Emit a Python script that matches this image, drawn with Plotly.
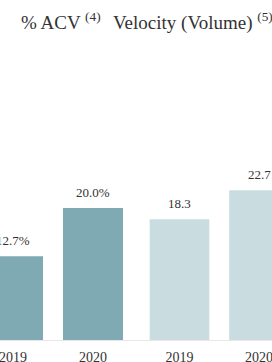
import plotly.graph_objects as go
from plotly.subplots import make_subplots

years = ["2019", "2020"]
acv_values = [12.7, 20.0]
acv_labels = ["12.7%", "20.0%"]
velocity_values = [18.3, 22.7]
velocity_labels = ["18.3", "22.7"]
titles = ["% ACV <sup>(4)</sup>", "Velocity (Volume) <sup>(5)</sup>"]

dark = "#7faab4"
light = "#c9dce0"
serif = "Liberation Serif"

fig = make_subplots(rows=1, cols=2, shared_yaxes=True, horizontal_spacing=0)

fig.add_trace(go.Bar(x=years, y=acv_values, marker_color=dark, width=0.75), row=1, col=1)
fig.add_trace(go.Bar(x=years, y=velocity_values, marker_color=light, width=0.75), row=1, col=2)

for xr, yr, vals, labels in [("x", "y", acv_values, acv_labels),
                             ("x2", "y2", velocity_values, velocity_labels)]:
    for i, (v, lab) in enumerate(zip(vals, labels)):
        fig.add_annotation(x=i, y=v, text=lab, xref=xr, yref=yr, showarrow=False,
                           yanchor="bottom", yshift=6,
                           font=dict(family=serif, size=13, color="#333"))

axis_common = dict(type="category", automargin=False, showgrid=False, zeroline=False,
                   showline=True, linecolor="#e8e8e8", linewidth=1, ticks="outside",
                   ticklen=4, tickcolor="rgba(0,0,0,0)",
                   tickfont=dict(family=serif, size=14, color="#333"))
fig.update_xaxes(**axis_common)
fig.update_xaxes(range=[-0.1625, 1.5375], row=1, col=1)
fig.update_xaxes(range=[-0.547, 1.163], row=1, col=2)
fig.update_yaxes(range=[0, 30], automargin=False, showgrid=False, zeroline=False,
                 showticklabels=False, showline=False)

for text, x0 in zip(titles, [19, 111]):
    fig.add_annotation(text=text, x=x0 / 272, y=1, xref="paper", yref="paper",
                       xanchor="left", yanchor="middle", yshift=(142 - 21), showarrow=False,
                       font=dict(family=serif, size=19, color="#333"))

fig.update_layout(template="none", width=272, height=362,
                  margin=dict(l=0, r=0, t=142, b=22, pad=0),
                  showlegend=False, plot_bgcolor="white", paper_bgcolor="white")

fig.write_html("out.html", config={"displayModeBar": False},
               post_script="document.body.style.margin='0';document.body.style.padding='0';")
